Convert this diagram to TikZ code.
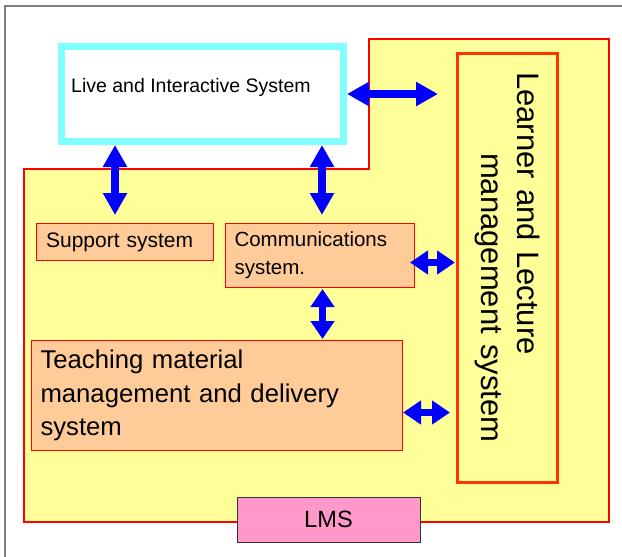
\documentclass[tikz,border=0pt]{standalone}
\usepackage{fontspec}
\setmainfont{Liberation Sans}
\usetikzlibrary{arrows.meta}

\definecolor{lmsyellow}{HTML}{FFFF99}
\definecolor{boxorange}{HTML}{FFCC99}
\definecolor{livecyan}{HTML}{80FFFF}
\definecolor{lmspink}{HTML}{FF99CC}
\definecolor{lineorange}{HTML}{FF3300}

\begin{document}
\begin{tikzpicture}[x=1pt, y=-1pt,
    sysbox/.style={draw=red, line width=1pt, fill=boxorange, anchor=north west, inner ysep=0pt, align=left},
    link/.style={blue, line width=8pt, {Triangle[length=22pt,width=23pt]}-{Triangle[length=22pt,width=23pt]}},
    smalllink/.style={link, line width=6.5pt, {Triangle[length=18pt,width=23pt]}-{Triangle[length=18pt,width=23pt]}}]
        \useasboundingbox (0,0) rectangle (622,557);

        % Frame
        \draw[gray, line width=1.5pt] (5,557) -- (5,6) -- (622,6);

        % LMS area
        \draw[red, line width=1.5pt, fill=lmsyellow] (24,169) -- (369,169) -- (369,39) -- (609,39) -- (609,522) -- (24,522) -- cycle;
        \node[draw=black!80, line width=1pt, fill=lmspink, minimum width=183, minimum height=45, font=\fontsize{23.6}{28}\selectfont] (lms) at (328.5,519.5) {LMS};

        % Live and interactive system
        \node[draw=livecyan, line width=7pt, fill=white, minimum width=282.5, minimum height=95] (live) at (202.25,94) {};
        \node[anchor=base west, inner sep=0pt, font=\fontsize{19.5}{24}\selectfont] (livetxt) at (71,92) {Live and Interactive System};

        % Learner and lecture management
        \node[draw=lineorange, line width=3pt, fill=lmsyellow, rotate=-90, minimum width=429, minimum height=100, text width=392, align=left, font=\fontsize{31}{36}\selectfont] (learner) at (507.5,268) {Learner and Lecture\\\hspace*{81pt}management system};

        % Subsystems
        \node[sysbox, minimum width=177, minimum height=37, inner xsep=9.6pt, text width=158, font=\fontsize{21}{28}\selectfont] (support) at (36,223) {Support system};
        \node[sysbox, minimum width=189, minimum height=64, inner xsep=9pt, text width=171, font=\fontsize{20.5}{28}\selectfont] (comm) at (225,223) {Communications\\system.};
        \node[sysbox, minimum width=371.5, minimum height=110, inner xsep=9.5pt, text width=352.5, font=\fontsize{25.7}{33.5}\selectfont] (teach) at (30.5,340) {Teaching material\\management and delivery\\system};

        % Links
        \draw[link] (live.east) -- ++(91,0);
        \draw[link, shorten >=8pt] ([xshift=-87.25pt]live.south) -- ([xshift=-87.25pt]live.south |- support.north);
        \draw[link, shorten >=8pt] ([xshift=119.75pt]live.south) -- ([xshift=119.75pt]live.south |- comm.north);
        \draw[smalllink, shorten <=1pt, shorten >=1pt] ([xshift=2.5pt]comm.south) -- ([xshift=2.5pt]comm.south |- teach.north);
        \draw[smalllink, shorten <=-5pt, shorten >=1pt] ([yshift=-7pt]comm.east) -- ([yshift=-7pt]comm.east -| learner.south);
        \draw[smalllink, shorten >=6pt] ([yshift=-17pt]teach.east) -- ([yshift=-17pt]teach.east -| learner.south);
\end{tikzpicture}
\end{document}
